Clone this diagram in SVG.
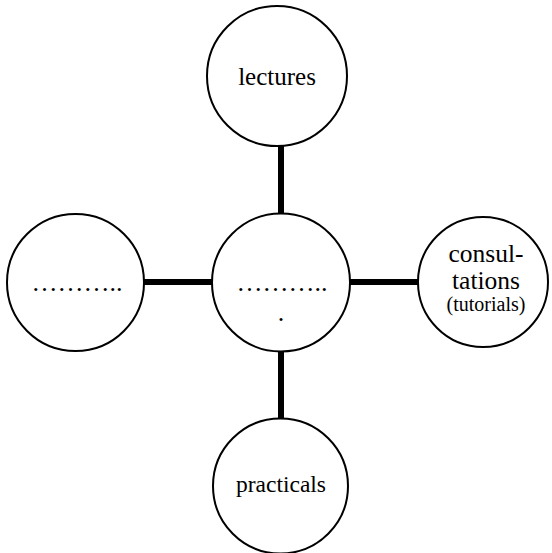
<svg xmlns="http://www.w3.org/2000/svg" width="552" height="553" viewBox="0 0 552 553">
<style>
.node{fill:#fff;stroke:#000;stroke-width:2}
.lbl{font-family:"Liberation Serif","Times New Roman","DejaVu Serif",serif;fill:#000;text-anchor:middle}
.conn{stroke:#000;stroke-width:6;fill:none}
</style>
<rect width="552" height="553" fill="#fff"/>
<g id="connectors">
<line class="conn" x1="281" y1="145" x2="281" y2="214"/>
<line class="conn" x1="143" y1="282" x2="213" y2="282"/>
<line class="conn" x1="349" y1="282" x2="419" y2="282"/>
<line class="conn" x1="281" y1="351" x2="281" y2="419"/>
</g>
<g id="lectures">
<circle class="node" cx="277" cy="76" r="70"/>
<text class="lbl" x="277" y="85" font-size="25">lectures</text>
</g>
<g id="left">
<circle class="node" cx="75.5" cy="282.5" r="68.5"/>
<text class="lbl" x="77" y="291" font-size="26">………..</text>
</g>
<g id="center">
<circle class="node" cx="281" cy="282.5" r="69"/>
<text class="lbl" x="282" y="291" font-size="26">………..</text>
<text class="lbl" x="281" y="321" font-size="26">.</text>
</g>
<g id="consultations">
<circle class="node" cx="483" cy="282" r="65"/>
<text class="lbl" x="486" y="262" font-size="25.5">consul-</text>
<text class="lbl" x="486" y="289" font-size="25.5">tations</text>
<text class="lbl" x="486" y="311" font-size="20">(tutorials)</text>
</g>
<g id="practicals">
<circle class="node" cx="280.5" cy="486" r="67.5"/>
<text class="lbl" x="281" y="492" font-size="23.5">practicals</text>
</g>
</svg>
